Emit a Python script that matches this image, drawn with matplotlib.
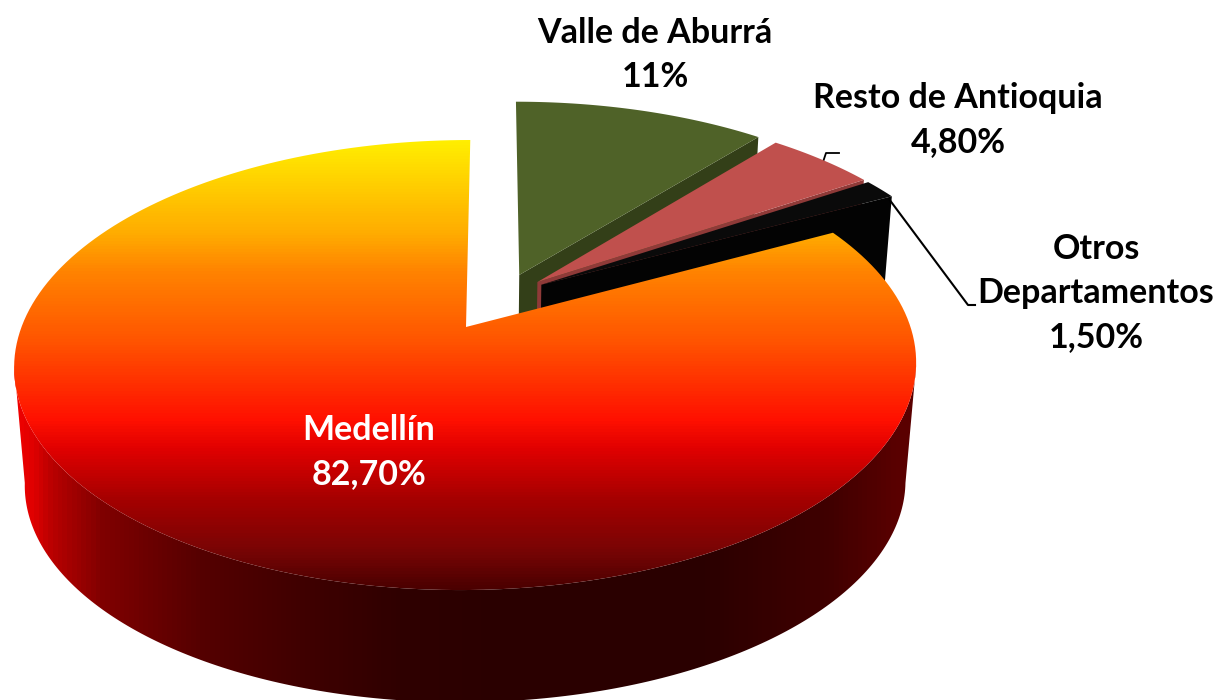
import numpy as np
import matplotlib
matplotlib.use("Agg")
import matplotlib.pyplot as plt
from matplotlib.colors import LinearSegmentedColormap
from matplotlib.patches import Polygon

# datos, en el orden de la torta empezando arriba y en sentido antihorario
regiones = ["Medellín", "Otros\nDepartamentos", "Resto de Antioquia", "Valle de Aburrá"]
valores = [82.7, 1.5, 4.8, 11.0]
etiquetas = ["82,70%", "1,50%", "4,80%", "11%"]

# desplazamiento de cada porcion en el plano de la torta
explosion = [(0.0, 0.0), (0.173, 0.20), (0.164, 0.213), (0.122, 0.248)]
color_cara = [None, "#0a0a0a", "#c0504d", "#4f6228"]
color_corte = [None, "#030303", "#8f3a38", "#333f18"]

# posicion de los textos (centro en pixeles)
pos_texto = [(369, 452), (1096, 293), (958, 120), (655, 55)]
color_texto = ["white", "black", "black", "black"]

# perspectiva: tapa y base del cilindro
K = 0.169
CX = 466
SESGO = 5.0
TAPA = (444.5, 218.6, 327)
BASE = (434.0, 213.0, 446)


def proyectar(u, v, disco=TAPA):
    a, b, cy = disco
    w = 1 + K * v
    return CX + (a * u + SESGO * v) / w, cy - b * v / w


def arco(t1, t2, du=0.0, dv=0.0, disco=TAPA, n=200):
    t = np.radians(np.linspace(t1, t2, n))
    x, y = proyectar(np.cos(t) + du, np.sin(t) + dv, disco)
    return np.column_stack([x, y])


def degradado(ax, verts, stops, vertical=True):
    cmap = LinearSegmentedColormap.from_list("g", stops)
    if vertical:
        img = np.linspace(0, 1, 700).reshape(-1, 1)
    else:
        img = np.linspace(0, 1, 1220).reshape(1, -1)
    im = ax.imshow(img, cmap=cmap, extent=(0, 1220, 700, 0), aspect="auto", vmin=0, vmax=1, zorder=2)
    clip = Polygon(verts, closed=True, transform=ax.transData, fc="none", ec="none")
    ax.add_patch(clip)
    im.set_clip_path(clip)


fig = plt.figure(figsize=(12.2, 7), dpi=100)
ax = fig.add_axes([0, 0, 1, 1])
plt.rcParams["font.family"] = ["Lato", "DejaVu Sans"]

angulos = 90 + np.cumsum([0] + valores) * 3.6

# porciones separadas, de atras hacia adelante
for i in [3, 2, 1]:
    t1, t2 = angulos[i], angulos[i + 1]
    du, dv = explosion[i]
    # cara del corte que mira al espectador
    x0, y0 = proyectar(du, dv)
    x1, y1 = proyectar(np.cos(np.radians(t1)) + du, np.sin(np.radians(t1)) + dv)
    x2, y2 = proyectar(np.cos(np.radians(t1)) + du, np.sin(np.radians(t1)) + dv, BASE)
    x3, y3 = proyectar(du, dv, BASE)
    ax.add_patch(Polygon([(x0, y0), (x1, y1), (x2, y2), (x3, y3)], fc=color_corte[i], ec="none", zorder=1 + (3 - i) * 0.1))
    tapa = np.vstack([[(x0, y0)], arco(t1, t2, du, dv)])
    ax.add_patch(Polygon(tapa, fc=color_cara[i], ec="none", zorder=1.05 + (3 - i) * 0.1))

# lineas guia
ax.plot([823, 826, 839], [162, 153, 153], color="black", lw=1.3, zorder=0.9)
ax.plot([889, 968, 975], [199, 305, 305], color="black", lw=1.5, zorder=1.5)

# costado de Medellin
borde = np.vstack([arco(189.7, 350.3), arco(189.7, 350.3, disco=BASE)[::-1]])
degradado(ax, borde, [
    (0.0, "#ff0000"), (30 / 1220, "#e00000"), (50 / 1220, "#b80000"), (100 / 1220, "#800000"),
    (150 / 1220, "#6a0000"), (200 / 1220, "#550000"), (300 / 1220, "#400000"), (400 / 1220, "#2f0000"),
    (500 / 1220, "#2a0000"), (700 / 1220, "#2a0000"), (830 / 1220, "#400000"), (900 / 1220, "#5a0000"),
    (1.0, "#5a0000"),
], vertical=False)

# tapa de Medellin
tapa = np.vstack([[proyectar(0, 0)], arco(angulos[0], angulos[1])])
degradado(ax, tapa, [
    (0.0, "#ffee00"), (140 / 700, "#ffee00"), (235 / 700, "#ffaa00"), (270 / 700, "#ff8400"),
    (340 / 700, "#ff5500"), (420 / 700, "#ff1000"), (450 / 700, "#e00000"), (500 / 700, "#a50000"),
    (550 / 700, "#7a0505"), (590 / 700, "#4a0000"), (1.0, "#4a0000"),
])

# textos
for nombre, etiqueta, (x, y), c in zip(regiones, etiquetas, pos_texto, color_texto):
    ax.text(x, y, nombre + "\n" + etiqueta, color=c, fontsize=24.5, fontweight="bold",
            ha="center", va="center", linespacing=1.45, zorder=5)

ax.set_xlim(0, 1220)
ax.set_ylim(700, 0)
ax.axis("off")
fig.savefig("out.png", dpi=100)
